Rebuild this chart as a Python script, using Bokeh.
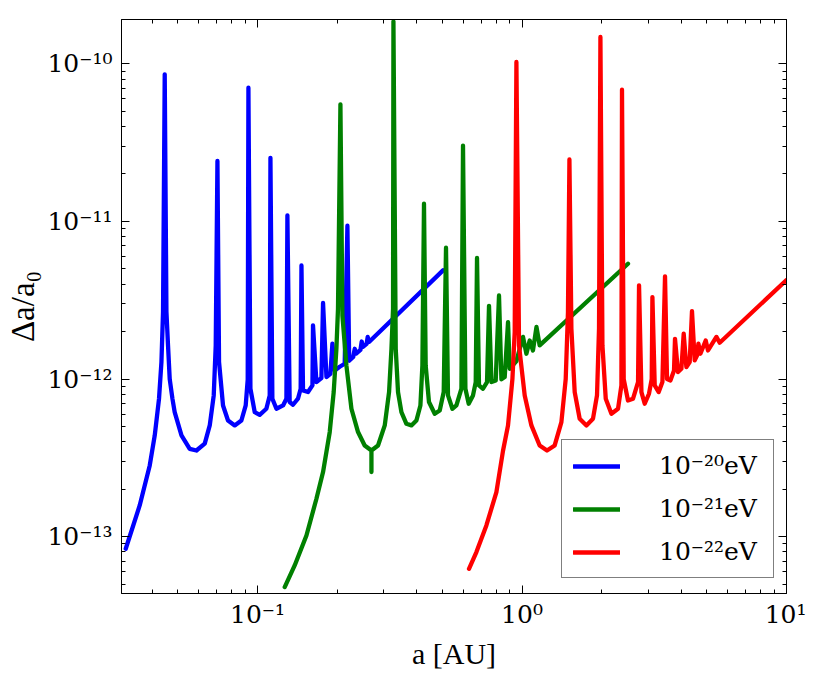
from bokeh.plotting import figure
from bokeh.models import FixedTicker, LogAxis, Legend, LegendItem, Range1d, CustomJSTickFormatter
from bokeh.embed import file_html
from bokeh.resources import INLINE

# ---- data ----
blue_x = [0.03175, 0.03585, 0.03913, 0.04087, 0.04242, 0.04332, 0.04393, 0.04458, 0.04525, 0.04588,
          0.04657, 0.04768, 0.04862, 0.05158, 0.05541, 0.05875, 0.06316, 0.06597, 0.06830, 0.06950,
          0.07054, 0.07153, 0.07406, 0.07735, 0.08199, 0.08690, 0.09023, 0.09182, 0.09238, 0.09401,
          0.09759, 0.1019, 0.1080, 0.1112, 0.1119, 0.1138, 0.1179, 0.1249, 0.1286, 0.1297,
          0.1323, 0.1362, 0.1422, 0.1456, 0.1466, 0.1486, 0.1552, 0.1613, 0.1621, 0.1670,
          0.1744, 0.1769, 0.1822, 0.1886, 0.1919, 0.1958, 0.2045, 0.2136, 0.2187, 0.2221,
          0.2300, 0.2331, 0.2360, 0.2450, 0.2477, 0.2505, 0.2585, 0.2610, 0.2640, 0.5027]
blue_y = [8.38e-14, 1.578e-13, 2.83e-13, 4.39e-13, 7.50e-13, 1.282e-12, 2.67e-12, 8.57e-11, 2.67e-12, 1.634e-12,
          9.96e-13, 7.50e-13, 6.17e-13, 4.39e-13, 3.61e-13, 3.52e-13, 3.89e-13, 5.08e-13, 7.87e-13, 1.634e-12,
          2.42e-11, 1.282e-12, 6.80e-13, 5.46e-13, 5.08e-13, 5.46e-13, 6.80e-13, 9.96e-13, 7.05e-11, 8.68e-13,
          6.17e-13, 5.93e-13, 6.48e-13, 7.87e-13, 2.53e-11, 7.50e-13, 6.48e-13, 6.80e-13, 7.50e-13, 1.092e-11,
          7.15e-13, 6.87e-13, 7.50e-13, 8.68e-13, 5.26e-12, 8.47e-13, 8.27e-13, 9.11e-13, 2.19e-12, 9.57e-13,
          1.015e-12, 3.04e-12, 1.03e-12, 1.08e-12, 1.675e-12, 1.134e-12, 1.197e-12, 1.25e-12, 9.39e-12, 1.306e-12,
          1.38e-12, 1.556e-12, 1.45e-12, 1.53e-12, 1.73e-12, 1.60e-12, 1.67e-12, 1.85e-12, 1.72e-12, 4.89e-12]

green_x = [0.1267, 0.1382, 0.1531, 0.1670, 0.1769, 0.1875, 0.1941, 0.1987, 0.2015, 0.2058,
           0.2094, 0.2168, 0.2265, 0.2399, 0.2542, 0.2696, 0.2696, 0.2696, 0.2855, 0.3027,
           0.3143, 0.3209, 0.3254, 0.3265, 0.3331, 0.3398, 0.3500, 0.3656, 0.3818, 0.3988,
           0.4129, 0.4201, 0.4260, 0.4323, 0.4449, 0.4677, 0.4885, 0.5058, 0.5160, 0.5250,
           0.5454, 0.5649, 0.5901, 0.5983, 0.6109, 0.6287, 0.6527, 0.6683, 0.6759, 0.6876,
           0.7121, 0.7374, 0.7503, 0.7663, 0.7955, 0.8185, 0.8359, 0.8602, 0.8854, 0.8986,
           0.9524, 1.0087, 1.039, 1.069, 1.100, 1.134, 1.166, 2.516]
green_y = [4.79e-14, 6.57e-14, 1.018e-13, 1.739e-13, 2.57e-13, 4.61e-13, 8.27e-13, 1.556e-12, 2.79e-12, 5.53e-11,
           2.53e-12, 1.22e-12, 6.48e-13, 4.61e-13, 3.79e-13, 3.52e-13, 2.57e-13, 3.52e-13, 3.79e-13, 5.08e-13,
           8.27e-13, 1.556e-12, 2.79e-12, 1.86e-10, 1.556e-12, 8.27e-13, 6.17e-13, 5.20e-13, 5.08e-13, 5.46e-13,
           6.80e-13, 1.22e-12, 1.295e-11, 1.22e-12, 7.15e-13, 6.02e-13, 6.32e-13, 8.27e-13, 6.81e-12, 7.87e-13,
           6.48e-13, 6.80e-13, 8.68e-13, 3.03e-11, 8.68e-13, 6.97e-13, 7.87e-13, 9.57e-13, 5.86e-12, 9.11e-13,
           8.68e-13, 9.57e-13, 2.91e-12, 9.57e-13, 9.80e-13, 3.39e-12, 9.96e-13, 1.03e-12, 2.30e-12, 1.162e-12,
           1.30e-12, 1.85e-12, 1.447e-12, 1.757e-12, 1.518e-12, 2.14e-12, 1.634e-12, 5.39e-12]

red_x = [0.6303, 0.6724, 0.7333, 0.8002, 0.8476, 0.8854, 0.9199, 0.9384, 0.9524, 0.9743,
         1.0238, 1.0852, 1.166, 1.243, 1.329, 1.409, 1.463, 1.492, 1.511, 1.537,
         1.582, 1.652, 1.752, 1.855, 1.921, 1.955, 1.979, 2.014, 2.073, 2.178,
         2.307, 2.376, 2.388, 2.424, 2.516, 2.629, 2.746, 2.770, 2.828, 2.910,
         3.021, 3.093, 3.112, 3.175, 3.287, 3.395, 3.473, 3.534, 3.640, 3.756,
         3.788, 3.889, 4.005, 4.086, 4.183, 4.305, 4.392, 4.497, 4.588, 4.644,
         4.726, 4.949, 5.049, 5.432, 5.590, 10.0]
red_y = [6.25e-14, 7.98e-14, 1.178e-13, 1.919e-13, 3.51e-13, 5.08e-13, 1.0e-12, 1.99e-12, 1.027e-10, 1.634e-12,
         7.87e-13, 5.08e-13, 3.79e-13, 3.52e-13, 3.79e-13, 5.33e-13, 1.0e-12, 2.66e-12, 2.47e-11, 2.09e-12,
         8.27e-13, 5.60e-13, 5.08e-13, 5.60e-13, 7.87e-13, 2.09e-12, 1.479e-10, 1.634e-12, 7.50e-13, 6.02e-13,
         6.48e-13, 9.11e-13, 6.85e-11, 1.0e-12, 7.31e-13, 7.50e-13, 9.57e-13, 3.93e-12, 8.27e-13, 6.97e-13,
         8.07e-13, 1.0e-12, 3.31e-12, 9.11e-13, 8.27e-13, 9.57e-13, 4.48e-12, 1.0e-12, 9.80e-13, 1.134e-12,
         1.80e-12, 1.108e-12, 1.162e-12, 1.94e-12, 1.19e-12, 1.282e-12, 2.70e-12, 1.312e-12, 1.41e-12, 1.675e-12,
         1.447e-12, 1.757e-12, 1.518e-12, 1.85e-12, 1.70e-12, 4.25e-12]

series_labels = ["10\u207b\u00b2\u2070eV", "10\u207b\u00b2\u00b9eV", "10\u207b\u00b2\u00b2eV"]
series_colors = ["#0000ff", "#008000", "#ff0000"]

xtick_vals = [0.1, 1.0, 10.0]
xtick_labels = ["10\u207b\u00b9", "10\u2070", "10\u00b9"]
x_minor = [0.04, 0.05, 0.06, 0.07, 0.08, 0.09, 0.2, 0.3, 0.4, 0.5, 0.6, 0.7, 0.8, 0.9,
           2.0, 3.0, 4.0, 5.0, 6.0, 7.0, 8.0, 9.0]
ytick_vals = [1e-13, 1e-12, 1e-11, 1e-10]
ytick_labels = ["10\u207b\u00b9\u00b3", "10\u207b\u00b9\u00b2", "10\u207b\u00b9\u00b9", "10\u207b\u00b9\u2070"]
y_minor = [m * 10.0 ** e for e in (-14, -13, -12, -11, -10) for m in range(2, 10)]

TICK_FONT = "DejaVu Serif"
LABEL_FONT = "Liberation Serif"

p = figure(x_axis_type="log", y_axis_type="log",
           x_range=Range1d(0.0306, 10.0), y_range=Range1d(4.36e-14, 1.91e-10),
           frame_width=665, frame_height=574,
           min_border_left=121, min_border_right=20, min_border_top=19, min_border_bottom=76,
           output_backend="svg", toolbar_location=None)
p.grid.visible = False
p.outline_line_color = "black"
p.outline_line_width = 1
p.background_fill_color = "white"
p.border_fill_color = "white"

renderers = []
for xs, ys, c in [(blue_x, blue_y, series_colors[0]), (green_x, green_y, series_colors[1]),
                  (red_x, red_y, series_colors[2])]:
    r = p.line(xs, ys, line_color=c, line_width=4.3, line_join="round", line_cap="round")
    renderers.append(r)

def style_axis(ax, ticks, minor):
    ax.ticker = FixedTicker(ticks=ticks, minor_ticks=minor)
    ax.major_tick_in = 8
    ax.major_tick_out = 0
    ax.minor_tick_in = 4
    ax.minor_tick_out = 0
    ax.axis_line_color = "black"
    ax.major_tick_line_color = "black"
    ax.minor_tick_line_color = "black"

xa = p.xaxis[0]
style_axis(xa, xtick_vals, x_minor)
xa.major_label_overrides = dict(zip(xtick_vals, xtick_labels))
xa.major_label_text_font = TICK_FONT
xa.major_label_text_font_size = "25px"
xa.major_label_text_color = "black"
xa.major_label_standoff = 6
xa.axis_label = "a [AU]"
xa.axis_label_text_font = LABEL_FONT
xa.axis_label_text_font_size = "30px"
xa.axis_label_text_font_style = "normal"
xa.axis_label_text_color = "black"
xa.axis_label_standoff = 5

ya = p.yaxis[0]
style_axis(ya, ytick_vals, y_minor)
ya.major_label_overrides = dict(zip(ytick_vals, ytick_labels))
ya.major_label_text_font = TICK_FONT
ya.major_label_text_font_size = "25px"
ya.major_label_text_color = "black"
ya.major_label_standoff = 9
ya.axis_label = "\u0394a/a\u2080"
ya.axis_label_text_font = LABEL_FONT
ya.axis_label_text_font_size = "33px"
ya.axis_label_text_font_style = "normal"
ya.axis_label_text_color = "black"
ya.axis_label_standoff = 3

blank = CustomJSTickFormatter(code="return '';")
top = LogAxis(formatter=blank, major_label_standoff=0, major_label_text_font_size="1px")
style_axis(top, xtick_vals, x_minor)
p.add_layout(top, "above")
right = LogAxis(formatter=blank, major_label_standoff=0, major_label_text_font_size="1px")
style_axis(right, ytick_vals, y_minor)
p.add_layout(right, "right")

legend = Legend(items=[LegendItem(label=series_labels[i], renderers=[renderers[i]]) for i in range(3)],
                location=(440, 15))
legend.border_line_color = "black"
legend.border_line_width = 1
legend.background_fill_color = "white"
legend.background_fill_alpha = 1.0
legend.label_text_font = TICK_FONT
legend.label_text_font_size = "25px"
legend.label_text_color = "black"
legend.glyph_width = 47
legend.glyph_height = 28
legend.label_height = 28
legend.label_width = 103
legend.label_standoff = 39
legend.padding = 11
legend.spacing = 14
legend.margin = 0
p.add_layout(legend)

open("out.html", "w").write(file_html(p, INLINE))
